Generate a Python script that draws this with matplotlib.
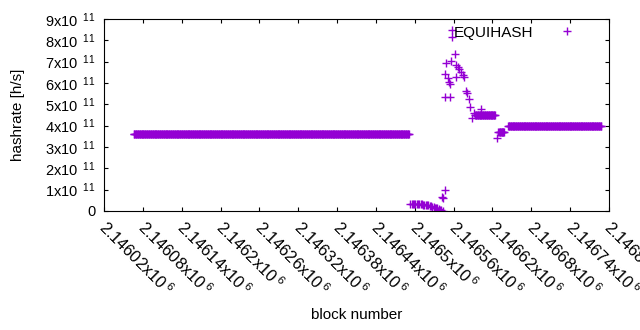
import numpy as np
import matplotlib
matplotlib.use('Agg')
import matplotlib.pyplot as plt
import matplotlib.transforms as mtransforms
from matplotlib.ticker import FixedLocator, FuncFormatter

plt.rcParams['font.family'] = ['Liberation Sans', 'DejaVu Sans']
plt.rcParams['mathtext.fontset'] = 'custom'
plt.rcParams['mathtext.rm'] = 'Liberation Sans'
plt.rcParams['mathtext.it'] = 'Liberation Sans:italic'
plt.rcParams['mathtext.bf'] = 'Liberation Sans:bold'

# flat runs of the hashrate estimate: first block, last block, h/s
flat_start = [2146066, 2146593, 2146630, 2146644]
flat_end = [2146491, 2146624, 2146638, 2146788]
flat_rate = [3.61e11, 4.50e11, 3.70e11, 4.00e11]

# the dip right after the first run
low_blocks = [2146493, 2146495, 2146497, 2146499, 2146501, 2146503, 2146505,
              2146507, 2146509, 2146511, 2146513, 2146515, 2146517, 2146519,
              2146521, 2146523, 2146525, 2146527, 2146529, 2146531, 2146533,
              2146535, 2146537, 2146539, 2146541, 2146543]
low_rates = [3.2e10, 3.2e10, 3.2e10, 3.2e10, 3.15e10, 3.15e10, 3.1e10,
             3.1e10, 3.1e10, 3.05e10, 3.0e10, 2.95e10, 2.8e10, 2.7e10,
             2.6e10, 2.5e10, 2.2e10, 2.05e10, 1.9e10, 1.6e10, 1.35e10,
             1.2e10, 0.9e10, 0.6e10, 0.4e10, 0.1e10]

# scattered blocks around the spike
spike_blocks = [2146542, 2146543, 2146546, 2146547, 2146547, 2146548, 2146551,
                2146553, 2146554, 2146555, 2146556, 2146558, 2146558, 2146562,
                2146564, 2146564, 2146566, 2146569, 2146571, 2146574, 2146576,
                2146579, 2146581, 2146583, 2146586, 2146588, 2146592, 2146602,
                2146627, 2146628]
spike_rates = [6.7e10, 6.3e10, 9.7e10, 5.33e11, 6.42e11, 6.92e11, 6.22e11,
               6.06e11, 5.36e11, 5.95e11, 7.05e11, 8.48e11, 8.17e11, 7.35e11,
               6.27e11, 6.84e11, 6.76e11, 6.64e11, 6.53e11, 6.38e11, 6.3e11,
               5.64e11, 5.55e11, 5.24e11, 4.86e11, 4.35e11, 4.58e11, 4.77e11,
               3.41e11, 3.72e11]

x_ticks = [2146020, 2146080, 2146140, 2146200, 2146260, 2146320, 2146380,
           2146440, 2146500, 2146560, 2146620, 2146680, 2146740, 2146800]
y_ticks = [0, 1e11, 2e11, 3e11, 4e11, 5e11, 6e11, 7e11, 8e11, 9e11]

# one point per block
blocks = []
rates = []
for s, e, r in zip(flat_start, flat_end, flat_rate):
    b = np.arange(s, e + 1)
    blocks.append(b)
    rates.append(np.full(len(b), r))
blocks.append(np.array(low_blocks))
rates.append(np.array(low_rates))
blocks.append(np.array(spike_blocks))
rates.append(np.array(spike_rates))
blocks = np.concatenate(blocks)
rates = np.concatenate(rates)

fig = plt.figure(figsize=(6.4, 3.3), dpi=100)
ax = fig.add_axes([104/640, 1 - 211/330, 505/640, 192/330])

ax.plot(blocks, rates, '+', color='#9400D3', markersize=5.6,
        markeredgewidth=1.0, label='EQUIHASH')

ax.set_xlim(2146020, 2146800)
ax.set_ylim(0, 9e11)
ax.xaxis.set_major_locator(FixedLocator(x_ticks))
ax.yaxis.set_major_locator(FixedLocator(y_ticks))
ax.xaxis.set_major_formatter(FuncFormatter(lambda v, p: '%gx10$^{\\ 6}$' % (v / 1e6)))
ax.yaxis.set_major_formatter(FuncFormatter(
    lambda v, p: '0' if v == 0 else '%gx10$^{\\ \\ 11}$' % (v / 1e11)))

ax.tick_params(direction='in', length=3, width=0.8, top=True, right=True,
               colors='black')
ax.tick_params(axis='x', pad=5, labelsize=11.8)
ax.tick_params(axis='y', pad=6, labelsize=10.5)
shift = mtransforms.ScaledTranslation(5/100, 0, fig.dpi_scale_trans)
for lab in ax.get_xticklabels():
    lab.set_rotation(-45)
    lab.set_ha('left')
    lab.set_va('top')
    lab.set_rotation_mode('anchor')
    lab.set_transform(lab.get_transform() + shift)
for sp in ax.spines.values():
    sp.set_linewidth(0.8)

ax.set_xlabel('block number', fontsize=11)
ax.set_ylabel('hashrate [h/s]', fontsize=11)
ax.xaxis.set_label_coords(0.5, -(315 - 211) / 192)
ax.xaxis.label.set_va('center')
ax.yaxis.set_label_coords(-(104 - 18) / 505, 0.5)
ax.yaxis.label.set_va('center')

ax.legend(loc='upper right', markerfirst=False, frameon=False, fontsize=11,
          handlelength=3, handletextpad=0.67, borderpad=0, borderaxespad=0,
          bbox_to_anchor=(0.962, 0.966))

fig.savefig('out.png', dpi=100)
